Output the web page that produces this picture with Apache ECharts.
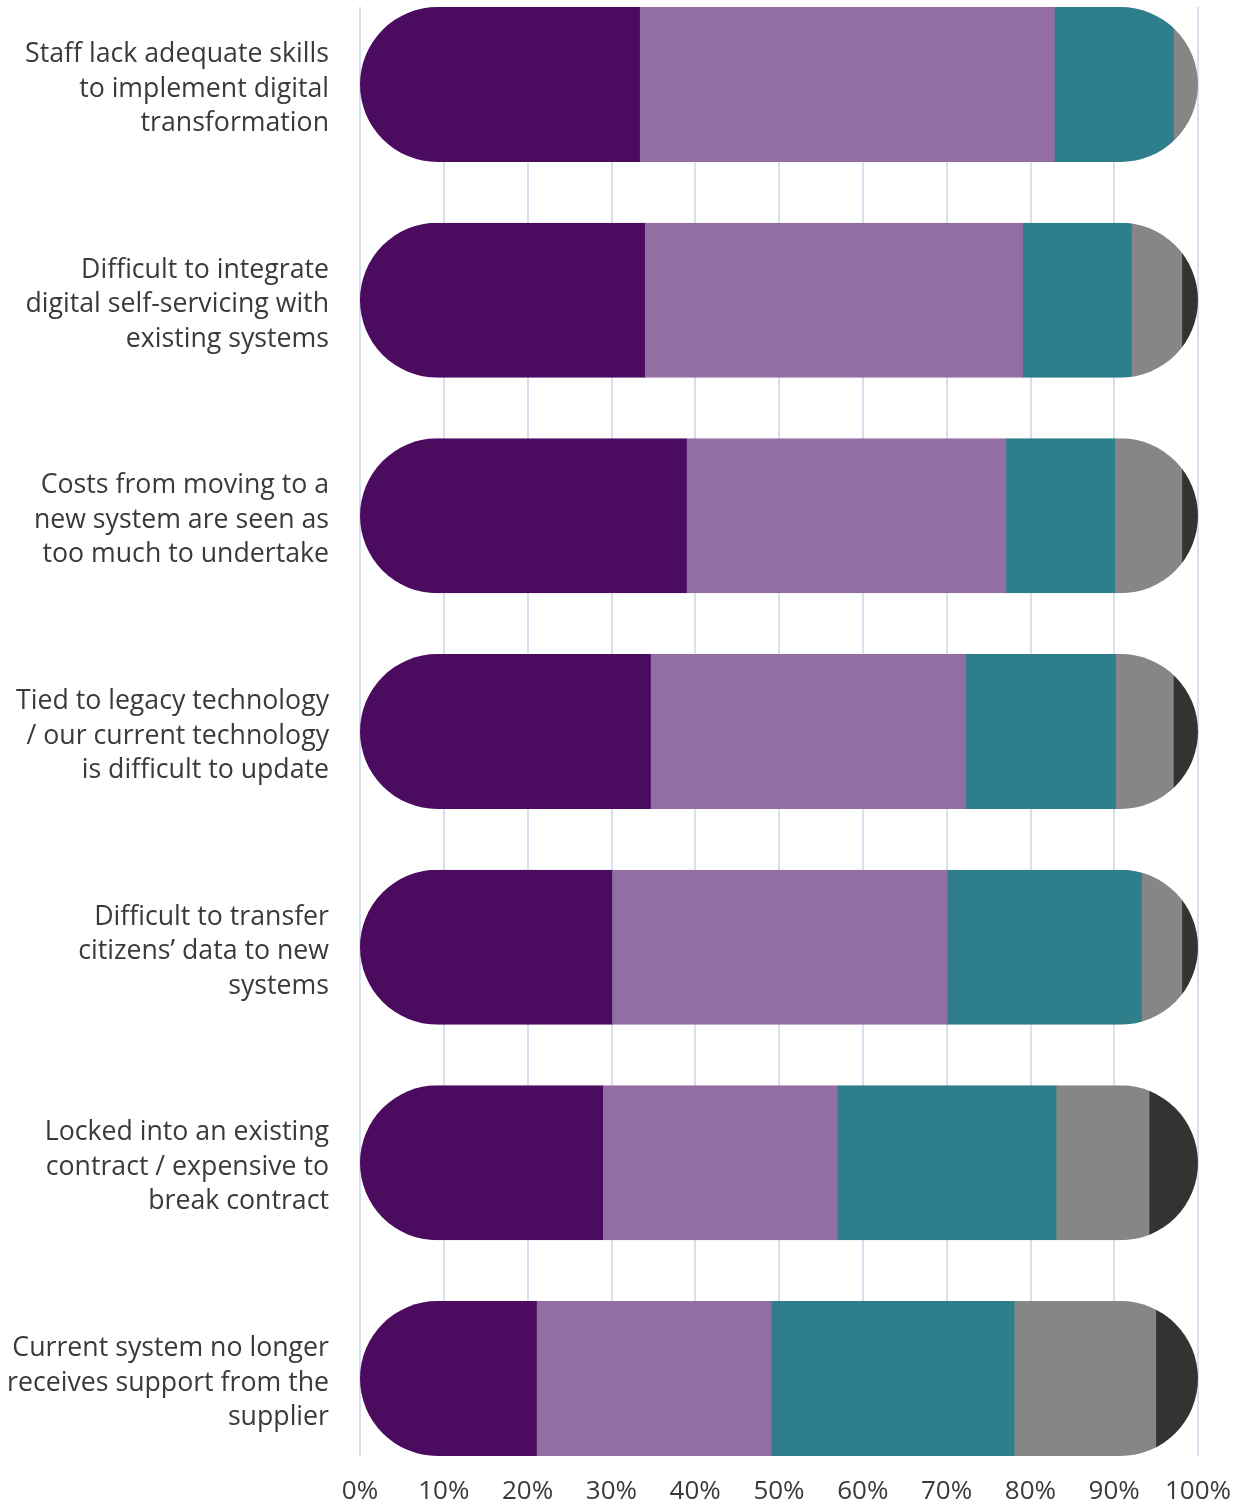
<!DOCTYPE html>
<html>
<head>
<meta charset="utf-8">
<style>
  html, body { margin: 0; padding: 0; background: #ffffff; }
  #chart { width: 1248px; height: 1504px; }
</style>
<script src="https://cdn.jsdelivr.net/npm/echarts@6/dist/echarts.min.js"></script>
</head>
<body>
<div id="chart"></div>
<script>
// Barriers to moving to a new system (share of respondents, %)
const categories = [
  'Staff lack adequate skills\nto implement digital\ntransformation',
  'Difficult to integrate\ndigital self-servicing with\nexisting systems',
  'Costs from moving to a\nnew system are seen as\ntoo much to undertake',
  'Tied to legacy technology\n/ our current technology\nis difficult to update',
  'Difficult to transfer\ncitizens\u2019 data to new\nsystems',
  'Locked into an existing\ncontract / expensive to\nbreak contract',
  'Current system no longer\nreceives support from the\nsupplier'
];

const seriesA = [33.4, 34.0, 39.0, 34.7, 30.1, 29.0, 21.1];
const seriesB = [49.5, 45.1, 38.1, 37.6, 40.0, 28.0, 28.0];
const seriesC = [14.2, 13.0, 13.0, 17.9, 23.2, 26.1, 29.0];
const seriesD = [2.9, 6.0, 8.0, 6.9, 4.8, 11.1, 16.9];
const seriesE = [0.0, 1.9, 1.9, 2.9, 1.9, 5.8, 5.0];

const xTicks = [0, 10, 20, 30, 40, 50, 60, 70, 80, 90, 100];

const groups = [seriesA, seriesB, seriesC, seriesD, seriesE];
const colors = ['#4b0b5f', '#936ea3', '#2e7f8b', '#868686', '#333333'];

// Cumulative [category, start, end] triples for each stacked segment
const starts = categories.map(() => 0);
const segmentData = groups.map(vals => vals.map((v, i) => {
  const s = starts[i];
  starts[i] += v;
  return [i, s, s + v];
}));

const BAR_H = 155;

// One segment of a pill-shaped stacked bar: a plain rect clipped by the
// rounded outline of the full 0-100% bar
function renderSegment(params, api) {
  const cat = api.value(0);
  const s = api.value(1);
  const e = api.value(2);
  if (!(e > s)) return null;
  const p0 = api.coord([s, cat]);
  const p1 = api.coord([e, cat]);
  const left = api.coord([0, cat]);
  const right = api.coord([100, cat]);
  const y = p0[1] - BAR_H / 2;
  return {
    type: 'rect',
    shape: { x: p0[0], y: y, width: p1[0] - p0[0] + 0.6, height: BAR_H },
    style: { fill: api.visual('color') },
    clipPath: {
      type: 'rect',
      shape: { x: left[0], y: y, width: right[0] - left[0], height: BAR_H, r: BAR_H / 2 }
    }
  };
}

const chart = echarts.init(document.getElementById('chart'), null, { renderer: 'canvas' });

const FONT = '"Open Sans", "Noto Sans", sans-serif';
const LABEL_SHIFT = 4.5;

chart.setOption({
  animation: false,
  backgroundColor: '#ffffff',
  grid: [
    // grid 0: gridlines and percentage labels
    { left: 360, right: 50, top: 7, bottom: 48, outerBoundsMode: 'none', containLabel: false },
    // grid 1: the bars
    { left: 360, right: 50, top: -23.33, bottom: 17.67, outerBoundsMode: 'none', containLabel: false },
    // grid 2: category labels, sitting slightly lower than the bar centres
    { left: 360, right: 50, top: -23.33 + LABEL_SHIFT, bottom: 17.67 - LABEL_SHIFT, outerBoundsMode: 'none', containLabel: false }
  ],
  xAxis: [
    {
      gridIndex: 0, type: 'value', min: 0, max: 100, interval: 10,
      axisLine: { show: false }, axisTick: { show: false },
      splitLine: { show: true, lineStyle: { color: '#d6e0ee', width: 2 } },
      axisLabel: {
        margin: 23, color: '#3a3a3a', fontSize: 26, fontFamily: FONT,
        formatter: v => xTicks.includes(v) ? v + '%' : ''
      }
    },
    { gridIndex: 1, type: 'value', min: 0, max: 100, show: false, splitLine: { show: false } },
    { gridIndex: 2, type: 'value', min: 0, max: 100, show: false, splitLine: { show: false } }
  ],
  yAxis: [
    { gridIndex: 0, type: 'category', data: categories, show: false },
    { gridIndex: 1, type: 'category', data: categories, inverse: true, show: false },
    {
      gridIndex: 2, type: 'category', data: categories, inverse: true,
      axisLine: { show: false }, axisTick: { show: false }, splitLine: { show: false },
      axisLabel: {
        margin: 31, color: '#3a3a3a', fontSize: 26.7, fontFamily: FONT,
        lineHeight: 34.5, align: 'right'
      }
    }
  ],
  series: groups.map((g, k) => ({
    type: 'custom',
    xAxisIndex: 1,
    yAxisIndex: 1,
    renderItem: renderSegment,
    encode: { x: [1, 2], y: 0 },
    itemStyle: { color: colors[k] },
    data: segmentData[k]
  }))
});
</script>
</body>
</html>
